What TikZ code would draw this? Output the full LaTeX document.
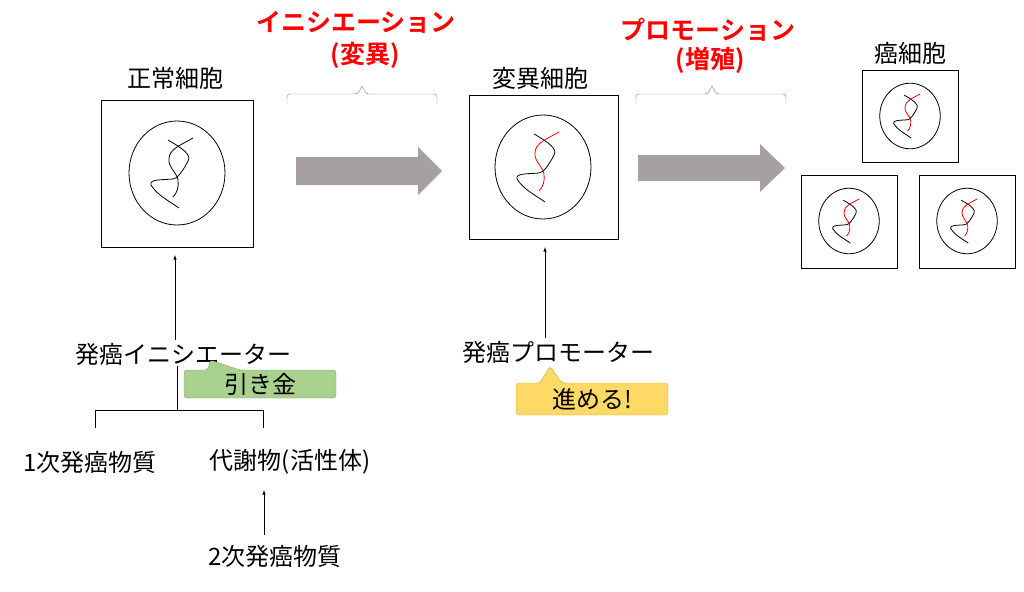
\documentclass[tikz,border=0pt]{standalone}
\usepackage{fontspec}
\setmainfont{Noto Sans CJK JP}
\newfontfamily\jpbold{Noto Sans CJK JP Bold}
\definecolor{arrowgray}{RGB}{166,160,160}
\definecolor{calloutgreen}{RGB}{169,209,142}
\definecolor{calloutyellow}{RGB}{255,217,102}
\tikzset{
  txt/.style={font=\fontsize{24}{28}\selectfont},
  ttl/.style={font=\jpbold\fontsize{25}{30}\selectfont,text=red},
  cellbox/.style={draw,thick,fill=white},
  thin arrow/.style={-latex,semithick},
  big arrow/.style={fill=arrowgray,draw=none},
  brace/.style={draw=gray,rounded corners=3pt},
}
% one cell: nucleus and two strands
\newcommand{\cellpic}[3]{%
  \begin{scope}[shift={(#1)},scale=#2]
    \draw[thick] (0,0) ellipse (48 and 52);
    \draw[thick] (-9,-33) .. controls (5,-25) and (15,-18) .. (11,-12)
      .. controls (6,-2) and (0,6) .. (-4,6) .. controls (-15,7) and (-28,6) .. (-26,12)
      .. controls (-20,22) and (-8,28) .. (2,35);
    \draw[thick,#3] (16,-35) .. controls (4,-28) and (-8,-24) .. (-8,-14)
      .. controls (-9,-6) and (0,0) .. (1,7) .. controls (2,14) and (0,20) .. (-4,24);
  \end{scope}}
\begin{document}
\begin{tikzpicture}[x=1pt,y=-1pt]
\useasboundingbox (0,0) rectangle (1024,591);

% titles
\node[ttl] (init) at (356,22) {イニシエーション};
\node[ttl] (initsub) at (365,55) {(変異)};
\node[ttl] (promo) at (708,30) {プロモーション};
\node[ttl] (promosub) at (710,60) {(増殖)};
\draw[brace] (287,104) -- (287,94) -- (358,94) -- (362,86);
\draw[brace] (437,104) -- (437,94) -- (366,94) -- (362,86);
\draw[brace] (636,104) -- (636,94) -- (708,94) -- (712,86);
\draw[brace] (786,104) -- (786,94) -- (716,94) -- (712,86);

% normal cell
\node[txt] (normal) at (175,78) {正常細胞};
\draw[cellbox] (101,100) rectangle (253,247);
\coordinate (c1) at (177,173);
\cellpic{c1}{1}{black}

% mutated cell
\node[txt] (mutant) at (540,78) {変異細胞};
\draw[cellbox] (469,95) rectangle (618,239);
\coordinate (c2) at (543,167);
\cellpic{c2}{1}{red}

% cancer cells
\node[txt] (cancer) at (910,53) {癌細胞};
\draw[cellbox] (862,70) rectangle (958,162);
\draw[cellbox] (801,175) rectangle (897,268);
\draw[cellbox] (919,175) rectangle (1015,268);
\cellpic{910,116}{.63}{red}
\cellpic{849,221}{.63}{red}
\cellpic{967,221}{.63}{red}

% big arrows
\fill[big arrow] (296,157) -- (418,157) -- (418,147) -- (442,171) -- (418,195)
  -- (418,185) -- (296,185) -- cycle;
\fill[big arrow] (638,155) -- (760,155) -- (760,144) -- (785,168) -- (760,192)
  -- (760,181) -- (638,181) -- cycle;

% initiator
\node[txt] (initiator) at (183,354) {発癌イニシエーター};
\coordinate (up1) at (175,255);
\draw[thin arrow] (175,340) -- (up1);
\draw (177,366) -- (177,410);
\draw (95,428) -- (95,410) -- (263,410) -- (263,428);
\node[txt] (first) at (90,462) {1次発癌物質};
\node[txt] (metab) at (290,462) {代謝物(活性体)};
\node[txt] (second) at (275,556) {2次発癌物質};
\coordinate (up3) at (264,490);
\draw[thin arrow] (264,535) -- (up3);
\fill[calloutgreen,draw=calloutgreen!80!black,rounded corners=3pt]
  (184,370) -- (208,370) -- (210,360) -- (240,370) -- (336,370) -- (336,398) -- (184,398) -- cycle;
\node[txt] (trigger) at (260,384) {引き金};

% promoter
\node[txt] (promoter) at (558,352) {発癌プロモーター};
\coordinate (up2) at (545,247);
\draw[thin arrow] (545,338) -- (up2);
\fill[calloutyellow,draw=calloutyellow!80!black,rounded corners=3pt]
  (516,383) -- (540,383) -- (550,366) -- (562,383) -- (668,383) -- (668,415) -- (516,415) -- cycle;
\node[txt] (advance) at (592,399) {進める!};

\end{tikzpicture}
\end{document}
